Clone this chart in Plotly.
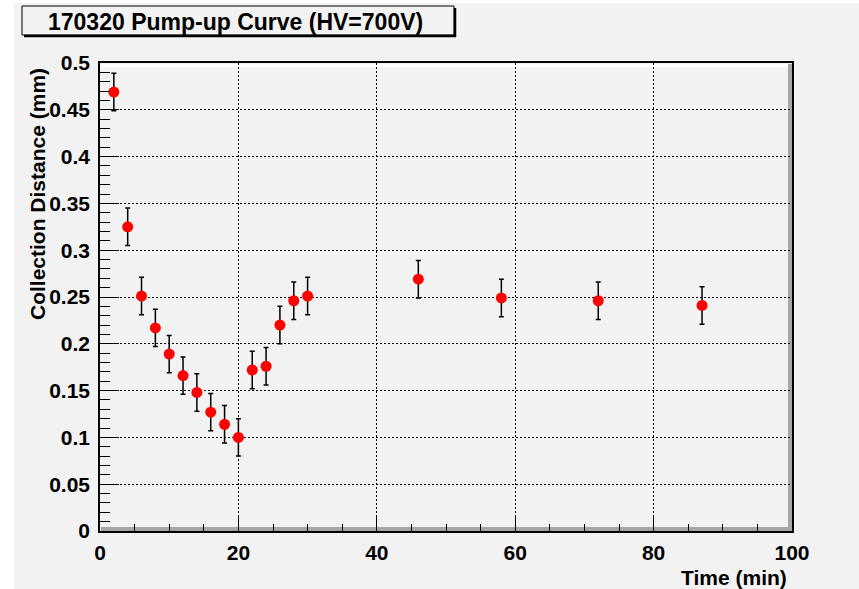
import plotly.graph_objects as go

# ---- data ----
time_min = [2, 4, 6, 8, 10, 12, 14, 16, 18, 20, 22, 24, 26, 28, 30, 46, 58, 72, 87]
distance_mm = [0.469, 0.325, 0.251, 0.217, 0.189, 0.166, 0.148, 0.127, 0.114, 0.100,
               0.172, 0.176, 0.220, 0.246, 0.251, 0.269, 0.249, 0.246, 0.241]
distance_err = [0.02] * len(time_min)

title_text = "170320 Pump-up Curve (HV=700V)"
x_title = "Time (min)"
y_title = "Collection Distance (mm)"

# ---- layout geometry (pixels) ----
W, H = 859, 589
L, R, T, B = 100, 792, 63, 531
pw, ph = R - L, B - T


def px(xp):
    return (xp - L) / pw


def py(yp):
    return (B - yp) / ph


FONT = "Liberation Sans, Arial, sans-serif"
BG = "#f2f2f2"

fig = go.Figure()
fig.add_trace(go.Scatter(
    x=time_min, y=distance_mm, mode="markers",
    marker=dict(color="#ff0000", size=11, line=dict(width=0)),
    error_y=dict(type="data", array=distance_err, visible=True,
                 color="black", thickness=1.5, width=2.5),
    showlegend=False,
))

axis_common = dict(
    showline=True, linecolor="black", linewidth=1.5, mirror=True,
    ticks="inside", tickcolor="black", tickwidth=1.2,
    showgrid=True, gridcolor="black", gridwidth=1, griddash="2px,2px",
    zeroline=False,
    tickfont=dict(family=FONT, size=21, color="black", weight="bold"),
)

fig.update_layout(
    width=W, height=H,
    margin=dict(l=L, r=W - R, t=T, b=H - B, pad=0),
    paper_bgcolor=BG, plot_bgcolor=BG,
    xaxis=dict(range=[0, 100], tickmode="linear", tick0=0, dtick=20, ticklen=15,
               minor=dict(ticks="inside", ticklen=7, dtick=5, tickcolor="black", showgrid=False),
               ticklabelstandoff=2,
               **axis_common),
    yaxis=dict(range=[0, 0.5], tickmode="linear", tick0=0, dtick=0.05, ticklen=19,
               minor=dict(ticks="inside", ticklen=10, dtick=0.01, tickcolor="black", showgrid=False),
               ticklabelstandoff=4,
               **axis_common),
    font=dict(family=FONT, color="black"),
)

shapes = []
# white margins of outer canvas
shapes.append(dict(type="rect", xref="paper", yref="paper", x0=px(0), x1=px(14), y0=py(H), y1=py(0),
                   fillcolor="white", line=dict(width=0), layer="below"))
shapes.append(dict(type="rect", xref="paper", yref="paper", x0=px(0), x1=px(W), y0=py(3), y1=py(0),
                   fillcolor="white", line=dict(width=0), layer="below"))
# frame bevel: gray bottom & right, white top
shapes.append(dict(type="rect", xref="paper", yref="paper", x0=px(L + 1), x1=px(R), y0=py(B), y1=py(B - 4),
                   fillcolor="#a6a6a6", line=dict(width=0), layer="below"))
shapes.append(dict(type="rect", xref="paper", yref="paper", x0=px(R - 4), x1=px(R), y0=py(B), y1=py(T + 1),
                   fillcolor="#a6a6a6", line=dict(width=0), layer="below"))
shapes.append(dict(type="rect", xref="paper", yref="paper", x0=px(L + 1), x1=px(R - 4), y0=py(T + 4), y1=py(T + 1),
                   fillcolor="white", line=dict(width=0), layer="below"))
# title box
shapes.append(dict(type="rect", xref="paper", yref="paper", x0=px(22), x1=px(454), y0=py(35), y1=py(6),
                   fillcolor=BG, line=dict(color="black", width=1)))
shapes.append(dict(type="line", xref="paper", yref="paper", x0=px(455), x1=px(455), y0=py(37), y1=py(8),
                   line=dict(color="black", width=2.5)))
shapes.append(dict(type="line", xref="paper", yref="paper", x0=px(24), x1=px(456), y0=py(36), y1=py(36),
                   line=dict(color="black", width=2.5)))
fig.update_layout(shapes=shapes)

fig.add_annotation(text=title_text, xref="paper", yref="paper", x=px(235), y=py(22),
                   xanchor="center", yanchor="middle", showarrow=False,
                   font=dict(family=FONT, size=23, color="black", weight="bold"))
fig.add_annotation(text=x_title, xref="paper", yref="paper", x=px(789), y=py(577),
                   xanchor="right", yanchor="middle", showarrow=False,
                   font=dict(family=FONT, size=21, color="black", weight="bold"))
fig.add_annotation(text=y_title, xref="paper", yref="paper", x=px(37), y=py(66),
                   xanchor="center", yanchor="top", textangle=-90, showarrow=False,
                   font=dict(family=FONT, size=21, color="black", weight="bold"))

fig.write_html("out.html")
